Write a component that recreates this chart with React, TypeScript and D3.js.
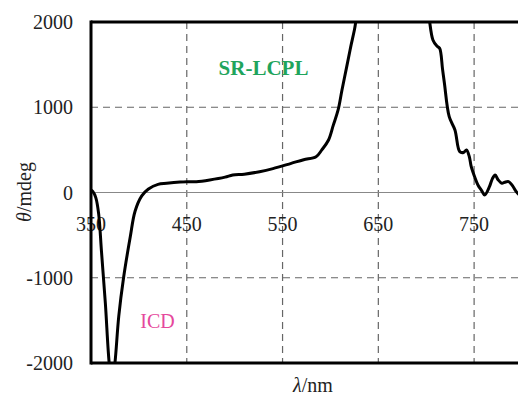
import * as d3 from "d3";

const wavelength = [350, 352, 355, 358, 361, 365, 369, 372, 375, 379, 384, 391, 396, 403, 410, 420, 429, 443, 450, 460, 474, 490, 498, 510, 526, 540, 559, 572, 585, 591, 598, 603, 608, 612, 617, 621, 625, 630, 635, 700, 703, 707, 711, 714, 717, 719, 724, 730, 735, 739, 742, 745, 747, 751, 754, 758, 761, 766, 769, 772, 775, 779, 782, 786, 790, 794, 800];
const theta = [30, 10, -60, -250, -700, -1300, -2000, -2250, -2000, -1450, -1000, -520, -220, -40, 40, 95, 108, 123, 127, 127, 147, 180, 205, 215, 244, 280, 342, 385, 420, 500, 616, 790, 968, 1200, 1476, 1700, 1906, 2200, 2300, 2300, 2050, 1789, 1720, 1691, 1450, 1281, 889, 733, 479, 470, 499, 420, 303, 170, 88, 20, -29, 68, 160, 205, 150, 108, 120, 127, 80, 10, -60];

const xTicks = [350, 450, 550, 650, 750];
const yTicks = [-2000, -1000, 0, 1000, 2000];

const width = 518;
const height = 396;
const margin = { top: 22, right: -4, bottom: 33, left: 91 };
const serif = { fontFamily: "'Liberation Serif', 'DejaVu Serif', serif" };

export default function App() {
  const x = d3.scaleLinear().domain([350, 800]).range([margin.left, width - margin.right]);
  const y = d3.scaleLinear().domain([-2000, 2000]).range([height - margin.bottom, margin.top]);
  const points = wavelength.map((w, i) => ({ w, t: theta[i] }));
  const line = d3
    .line<{ w: number; t: number }>()
    .x((p) => x(p.w))
    .y((p) => y(p.t))
    .curve(d3.curveCatmullRom.alpha(0.5));
  const left = x(350);
  const right = width;
  const top = y(2000);
  const bottom = y(-2000);

  return (
    <svg width={width} height={height} style={{ position: "absolute", left: 0, top: 0 }}>
      <defs>
        <clipPath id="plot">
          <rect x={left} y={top} width={right - left} height={bottom - top} />
        </clipPath>
      </defs>
      {xTicks.slice(1).map((t) => (
        <line key={t} x1={x(t)} x2={x(t)} y1={top} y2={bottom} stroke="#666" strokeWidth={1.2} strokeDasharray="7,5" />
      ))}
      {[-1000, 1000].map((t) => (
        <line key={t} x1={left} x2={right} y1={y(t)} y2={y(t)} stroke="#666" strokeWidth={1.2} strokeDasharray="7,5" />
      ))}
      <line x1={left} x2={right} y1={y(0)} y2={y(0)} stroke="#888" strokeWidth={1.2} />
      {xTicks.map((t) => (
        <text key={t} x={x(t)} y={231} textAnchor="middle" fontSize={20} fill="#222" style={serif}>{t}</text>
      ))}
      {yTicks.map((t) => (
        <text key={t} x={73} y={y(t) + 7} textAnchor="end" fontSize={20} fill="#222" style={serif}>{t}</text>
      ))}
      <path d={line(points) ?? ""} fill="none" stroke="#000" strokeWidth={3} strokeLinejoin="round" clipPath="url(#plot)" />
      <line x1={left} x2={right} y1={top} y2={top} stroke="#000" strokeWidth={3} />
      <line x1={left} x2={right} y1={bottom} y2={bottom} stroke="#000" strokeWidth={3} />
      <line x1={left} x2={left} y1={top - 1.5} y2={bottom + 1.5} stroke="#000" strokeWidth={3} />
      <text x={263.5} y={75} textAnchor="middle" fontSize={21} fontWeight="bold" fill="#1fa45c" style={serif}>SR-LCPL</text>
      <text x={157.5} y={328} textAnchor="middle" fontSize={20} fill="#e5489c" style={serif}>ICD</text>
      <text transform="translate(31, 192) rotate(-90)" textAnchor="middle" fontSize={20} fill="#222" style={serif}>
        <tspan fontStyle="italic">θ</tspan>/mdeg
      </text>
      <text x={313} y={392} textAnchor="middle" fontSize={20} fill="#222" style={serif}>
        <tspan fontStyle="italic">λ</tspan>/nm
      </text>
    </svg>
  );
}
